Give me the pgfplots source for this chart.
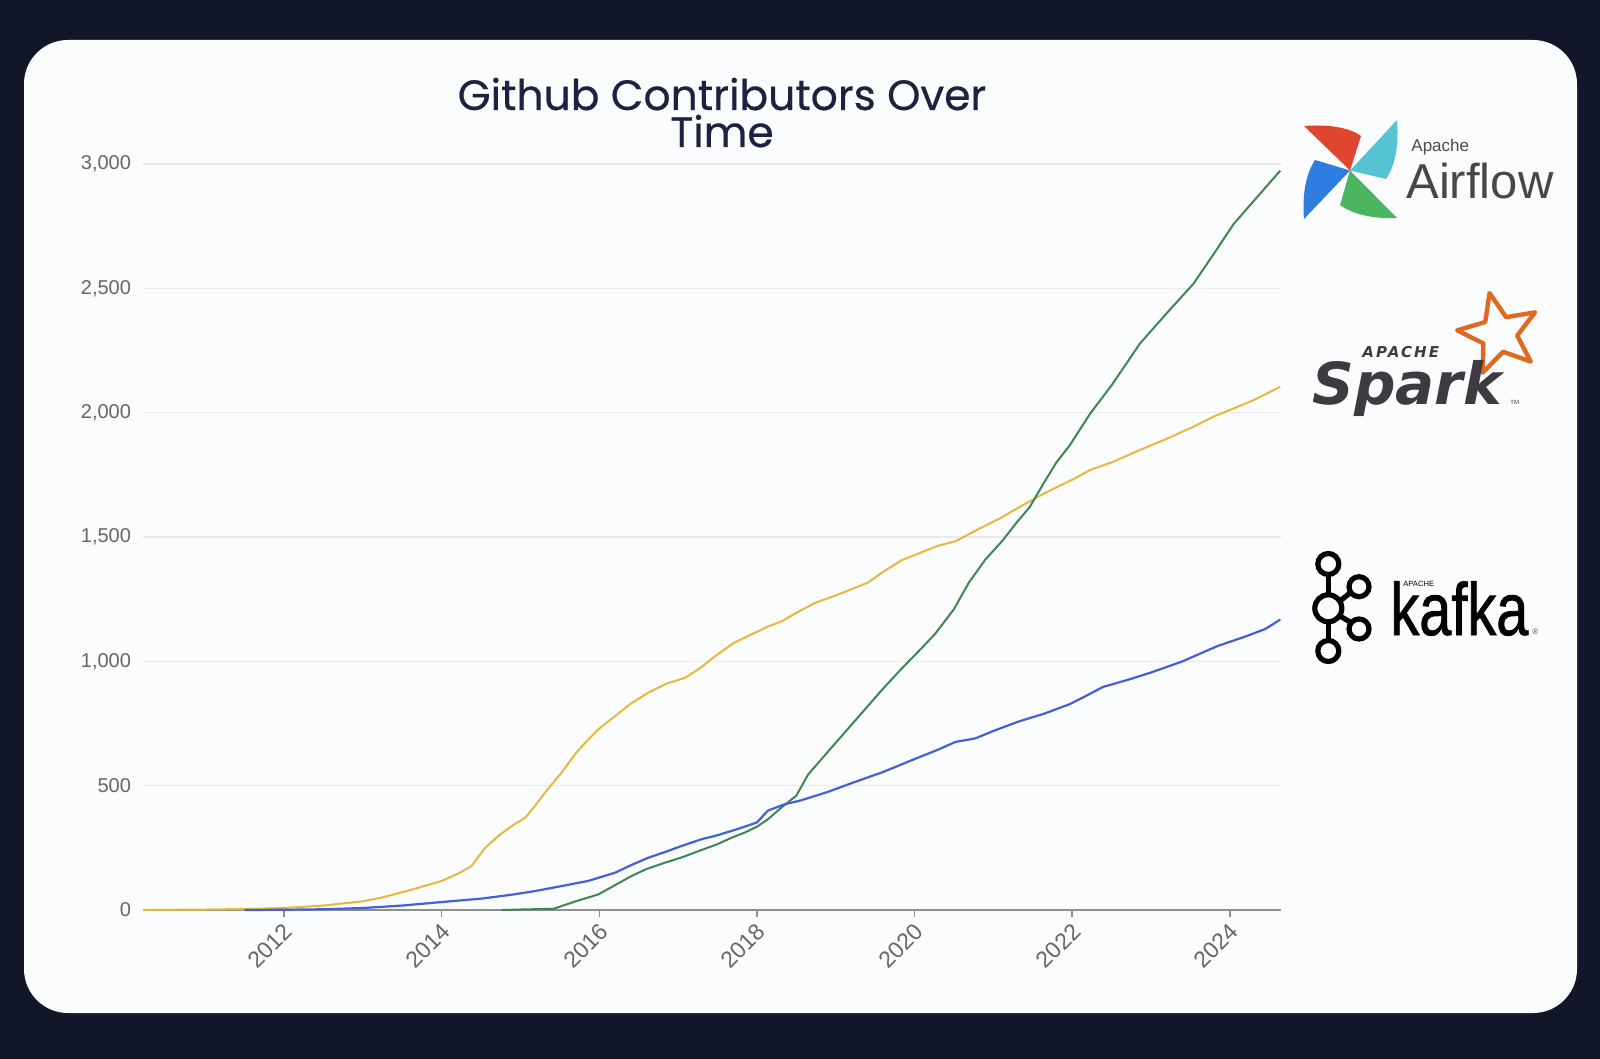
\documentclass[border=0pt]{standalone}
\usepackage{fontspec}
\setmainfont{Liberation Sans}
\newfontfamily\titlefont{Poppins}[FakeBold=0.5]
\newfontfamily\djv{DejaVu Sans}
\newfontfamily\djvspaced{DejaVu Sans}[LetterSpace=14]
\newfontfamily\kafkafont{Liberation Sans}[FakeBold=1.2]
\usepackage{graphicx}
\usepackage{pgfplots}
\usepackage{pgfplotstable}
\pgfplotsset{compat=1.18}
\usetikzlibrary{shapes.geometric}

\definecolor{bg}{HTML}{111729}
\definecolor{card}{HTML}{FBFCFD}
\definecolor{titlec}{HTML}{1E2140}
\definecolor{labelc}{HTML}{666666}
\definecolor{axisc}{HTML}{8E8E8E}
\definecolor{gridc}{HTML}{E9E9EA}
\definecolor{sparkc}{HTML}{E8B83E}
\definecolor{kafkac}{HTML}{4460D8}
\definecolor{airc}{HTML}{3F8652}
\definecolor{afred}{HTML}{DF4630}
\definecolor{afteal}{HTML}{56C3D3}
\definecolor{afgreen}{HTML}{4CB55F}
\definecolor{afblue}{HTML}{2F7DE1}
\definecolor{sparkorange}{HTML}{E0681F}
\definecolor{sparktext}{HTML}{3D3B3F}

% Apache Spark contributors
\pgfplotstableread{
x y
2010.21 0
2011.0 2
2011.5 4
2012.0 8
2012.5 18
2013.0 35
2013.24 50
2013.6 80
2014.0 117
2014.2 145
2014.38 177
2014.55 250
2014.72 298
2014.9 340
2015.06 371
2015.2 425
2015.31 472
2015.52 552
2015.7 630
2015.86 686
2016.0 730
2016.2 780
2016.4 830
2016.62 874
2016.85 910
2017.09 934
2017.29 975
2017.47 1021
2017.71 1075
2017.89 1102
2018.14 1140
2018.31 1160
2018.5 1195
2018.73 1234
2019.0 1265
2019.2 1290
2019.41 1317
2019.6 1360
2019.84 1407
2020.1 1440
2020.3 1465
2020.52 1483
2020.8 1530
2021.09 1576
2021.3 1615
2021.59 1666
2021.8 1700
2022.0 1730
2022.23 1770
2022.5 1800
2022.86 1850
2023.2 1895
2023.54 1944
2023.8 1985
2024.05 2017
2024.3 2050
2024.64 2104
}\sparktable

% Apache Kafka contributors
\pgfplotstableread{
x y
2011.5 0
2012.0 1
2012.5 3
2013.0 8
2013.5 18
2014.0 32
2014.51 46
2014.9 62
2015.18 76
2015.5 95
2015.86 117
2016.2 150
2016.4 180
2016.62 210
2016.85 235
2017.04 257
2017.3 285
2017.47 298
2017.75 325
2018.0 352
2018.14 400
2018.35 425
2018.56 441
2018.9 475
2019.2 510
2019.6 555
2020.0 607
2020.3 645
2020.52 676
2020.77 690
2021.0 720
2021.33 759
2021.65 790
2021.97 828
2022.2 865
2022.39 897
2022.7 925
2023.0 955
2023.4 1000
2023.84 1061
2024.2 1100
2024.45 1130
2024.64 1168
}\kafkatable

% Apache Airflow contributors
\pgfplotstableread{
x y
2014.76 0
2015.0 2
2015.42 5
2015.7 35
2015.99 63
2016.2 100
2016.41 137
2016.6 165
2016.83 190
2017.05 212
2017.26 237
2017.5 265
2017.68 291
2017.85 312
2018.0 335
2018.14 365
2018.31 412
2018.5 460
2018.65 545
2018.99 669
2019.2 745
2019.41 821
2019.6 890
2019.84 972
2020.05 1040
2020.26 1110
2020.5 1210
2020.69 1317
2020.9 1410
2021.11 1483
2021.3 1560
2021.46 1620
2021.64 1717
2021.8 1800
2021.97 1869
2022.23 1997
2022.5 2110
2022.86 2278
2023.2 2400
2023.54 2519
2023.8 2640
2024.05 2759
2024.3 2850
2024.64 2973
}\airflowtable

\begin{document}
\begin{tikzpicture}
\begin{scope}[x=0.5pt,y=-0.5pt]
\useasboundingbox (0,0) rectangle (1600,1059);
\fill[bg] (0,0) rectangle (1600,1059);
\fill[card, rounded corners=22pt] (24,40) rectangle (1577,1013);
% title
\node[anchor=base, text=titlec, font=\titlefont\fontsize{21.2}{24}\selectfont, inner sep=0pt] at (722,110) {Github Contributors Over};
\node[anchor=base, text=titlec, font=\titlefont\fontsize{21.2}{24}\selectfont, inner sep=0pt] at (722,147) {Time};

% Airflow logo
\fill[afred]   (1350,170.5) -- (1304,126) .. controls (1330,124) and (1350,128) .. (1361,136) -- cycle;
\fill[afteal]  (1350,170.5) -- (1397,120) .. controls (1399,146) and (1395,166) .. (1386,179) -- cycle;
\fill[afgreen] (1350,170.5) -- (1397,218) .. controls (1372,219) and (1352,214) .. (1340,205) -- cycle;
\fill[afblue]  (1350,170.5) -- (1304,219) .. controls (1302,194) and (1306,174) .. (1315,160) -- cycle;
\node[anchor=base west, inner sep=0pt, text=black!70, font=\fontsize{8.5}{10}\selectfont] at (1411,152) {Apache};
\node[anchor=base west, inner sep=0pt, text=black!72, font=\fontsize{24.5}{28}\selectfont] at (1406,199) {Airflow};

% Spark logo
\node[star, star points=5, star point ratio=2.3, draw=sparkorange, line width=2.2pt, line join=round, minimum size=42pt, inner sep=0pt, rotate=13] at (1499,334) {};
\node[anchor=base west, inner sep=0pt, text=sparktext, font=\djvspaced\bfseries\itshape\fontsize{7.5}{9}\selectfont] at (1362,357) {APACHE};
\node[anchor=base west, inner sep=0pt, text=sparktext, font=\djv\bfseries\itshape\fontsize{29}{31}\selectfont] at (1312,404) {Spark};
\node[anchor=base west, inner sep=0pt, text=sparktext, font=\fontsize{3}{4}\selectfont] at (1510,404) {TM};

% Kafka logo
\begin{scope}[line width=2.6pt, black]
\draw (1328.3,576) -- (1328.3,594);
\draw (1328.3,623) -- (1328.3,639);
\draw (1340,601) -- (1350,593);
\draw (1340,616) -- (1350,622);
\draw (1328.3,564) circle (10.5);
\draw (1328.3,608.3) circle (13.5);
\draw (1328.3,651) circle (10.5);
\draw (1359,586.7) circle (10);
\draw (1359,629) circle (10);
\end{scope}
\node[anchor=base west, inner sep=0pt, text=black, font=\fontsize{3.8}{4}\selectfont] at (1403,586) {APACHE};
\node[anchor=base west, inner sep=0pt, text=black] at (1390,635) {\scalebox{0.78}[1]{\kafkafont\fontsize{37}{40}\selectfont kafka}};
\node[anchor=base west, inner sep=0pt, text=black!70, font=\fontsize{4}{5}\selectfont] at (1532,634) {\textregistered};
\end{scope}

\begin{axis}[
  at={(71.5pt,-455pt)}, anchor=south west,
  scale only axis, width=569pt, height=373pt,
  xmin=2010.21, xmax=2024.65, ymin=0, ymax=3000,
  axis x line*=bottom, axis y line*=left,
  x axis line style={draw=axisc, line width=1pt, -},
  y axis line style={draw=none, -},
  xtick={2012,2014,2016,2018,2020,2022,2024},
  xticklabels={2012,2014,2016,2018,2020,2022,2024},
  ytick={0,500,1000,1500,2000,2500,3000},
  /pgf/number format/.cd, 1000 sep={,}, assume math mode=true, /pgfplots/.cd,
  ymajorgrids, grid style={draw=gridc, line width=0.8pt},
  tick align=outside, major tick length=3.5pt,
  xtick style={draw=axisc, line width=0.8pt},
  ytick style={draw=none},
  tick label style={font=\fontsize{10}{12}\selectfont, text=labelc},
  xticklabel style={font=\fontsize{11.5}{13}\selectfont, rotate=45, anchor=north east, inner sep=1pt, xshift=-1pt},
  yticklabel style={xshift=1pt},
  clip=false,
]
\addplot[sparkc, line width=1pt] table[x=x,y=y] {\sparktable};
\addplot[airc, line width=1pt] table[x=x,y=y] {\airflowtable};
\addplot[kafkac, line width=1.1pt] table[x=x,y=y] {\kafkatable};
\end{axis}
\end{tikzpicture}
\end{document}
